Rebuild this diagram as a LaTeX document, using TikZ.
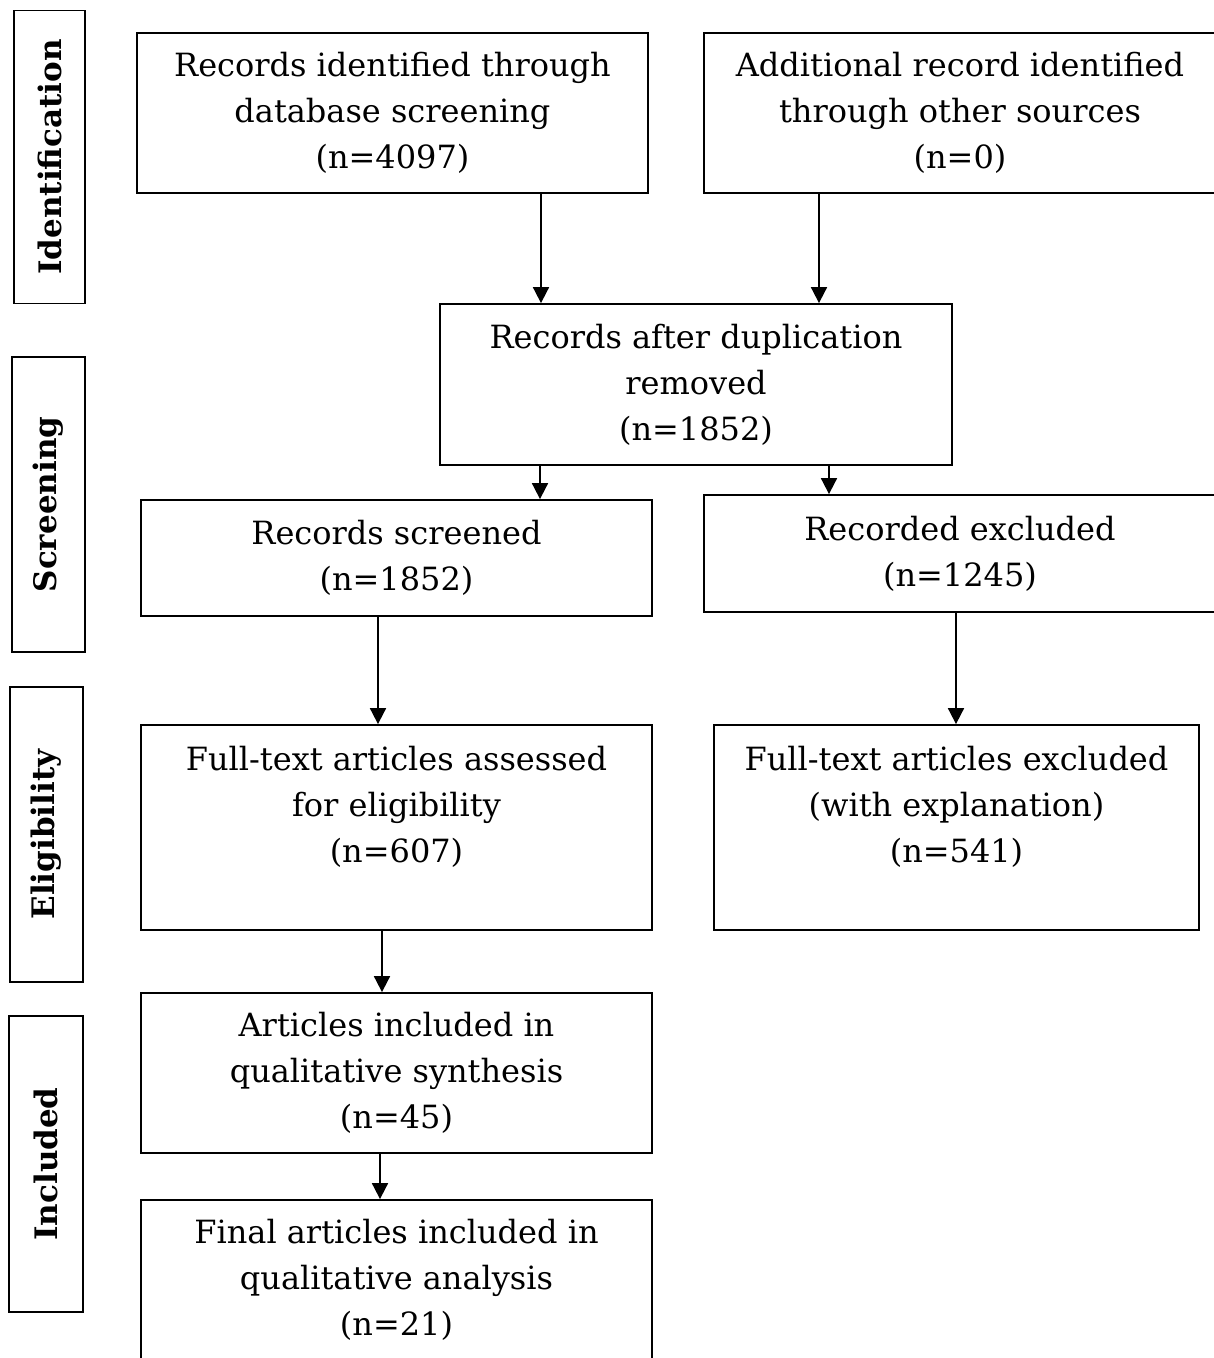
\documentclass[tikz,border=0pt]{standalone}
\usepackage{fontspec}
\setmainfont{DejaVu Serif}
\usetikzlibrary{arrows.meta}
\begin{document}
\begin{tikzpicture}[x=1pt,y=-1pt,
  box/.style={draw, line width=1.8pt, align=center, inner sep=0pt,
    font=\fontsize{32}{46}\selectfont},
  side/.style={draw, line width=1.8pt, rotate=90, inner sep=0pt,
    font=\fontsize{31}{36}\selectfont\bfseries},
  arr/.style={line width=1.8pt, -{Triangle[width=16pt,length=16pt]}}]
\useasboundingbox (0,0) rectangle (1214,1358);
\clip (0,0) rectangle (1214,1358);
\fill[white] (0,0) rectangle (1214,1358);
% side labels
\node[side, minimum width=293pt, minimum height=71pt] (s1) at (49.5,157) {Identification};
\node[side, minimum width=295pt, minimum height=73pt] (s2) at (48.5,504.5) {Screening};
\node[side, minimum width=295pt, minimum height=73pt] (s3) at (46.5,834.5) {Eligibility};
\node[side, minimum width=296pt, minimum height=74pt] (s4) at (46,1164) {Included};
% boxes
\node[box, minimum width=511pt, minimum height=160pt] (A) at (392.5,113) {Records identified through\\database screening\\(n=4097)};
\node[box, minimum width=512pt, minimum height=160pt] (B) at (960,113) {Additional record identified\\through other sources\\(n=0)};
\node[box, minimum width=512pt, minimum height=161pt] (C) at (696,384.5) {Records after duplication\\removed\\(n=1852)};
\node[box, minimum width=511pt, minimum height=116pt] (D) at (396.5,558) {Records screened\\(n=1852)};
\node[box, minimum width=512pt, minimum height=117pt] (E) at (960,553.5) {Recorded excluded\\(n=1245)};
\node[box, minimum width=511pt, minimum height=205pt] (F) at (396.5,827.5) {Full-text articles assessed\\for eligibility\\(n=607)\\\mbox{}};
\node[box, minimum width=485pt, minimum height=205pt] (G) at (956.5,827.5) {Full-text articles excluded\\(with explanation)\\(n=541)\\\mbox{}};
\node[box, minimum width=511pt, minimum height=160pt] (H) at (396.5,1073) {Articles included in\\qualitative synthesis\\(n=45)};
\node[box, minimum width=511pt, minimum height=160pt] (I) at (396.5,1280) {Final articles included in\\qualitative analysis\\(n=21)};
% arrows
\draw[arr] ([xshift=148.5pt]A.south) -- ([xshift=148.5pt]A.south |- C.north);
\draw[arr] ([xshift=-141pt]B.south) -- ([xshift=-141pt]B.south |- C.north);
\draw[arr] ([xshift=-156pt]C.south) -- ([xshift=-156pt]C.south |- D.north);
\draw[arr] ([xshift=133pt]C.south) -- ([xshift=133pt]C.south |- E.north);
\draw[arr] ([xshift=-18.5pt]D.south) -- ([xshift=-18.5pt]D.south |- F.north);
\draw[arr] ([xshift=-4pt]E.south) -- ([xshift=-4pt]E.south |- G.north);
\draw[arr] ([xshift=-14.5pt]F.south) -- ([xshift=-14.5pt]F.south |- H.north);
\draw[arr] ([xshift=-16.5pt]H.south) -- ([xshift=-16.5pt]H.south |- I.north);
\end{tikzpicture}
\end{document}
